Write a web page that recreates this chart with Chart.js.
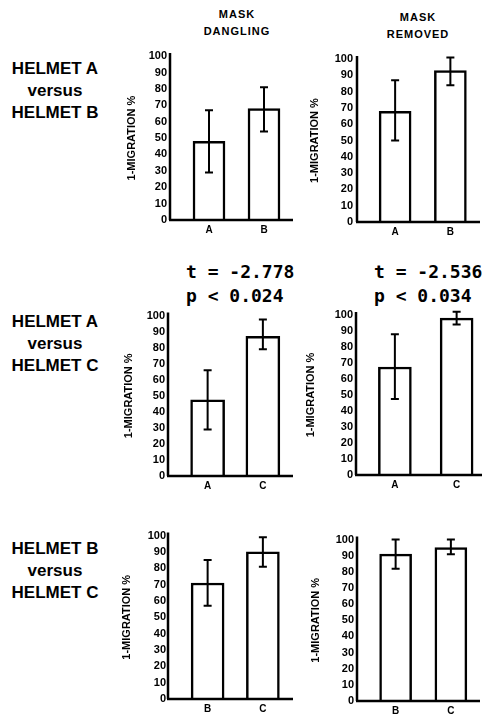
<!DOCTYPE html>
<html>
<head>
<meta charset="utf-8">
<script src="https://cdn.jsdelivr.net/npm/chart.js@4.4.0/dist/chart.umd.min.js"></script>
<style>
  body { margin:0; width:488px; height:718px; overflow:hidden; background:#fff; position:relative;
         font-family:"Liberation Sans", Arial, sans-serif; color:#000; }
  .lbl  { position:absolute; font-weight:bold; text-align:center; }
  .row  { left:0; width:110px; font-size:17px; line-height:22px; }
  .hdr  { width:120px; font-size:11px; line-height:17px; letter-spacing:1px; }
  .stat { position:absolute; font-family:"DejaVu Sans Mono", monospace; font-size:18px; line-height:24px;
          font-weight:bold; white-space:pre; }
  canvas { position:absolute; }
</style>
</head>
<body>
<div class="lbl hdr" style="left:177px;top:6px;">MASK<br>DANGLING</div>
<div class="lbl hdr" style="left:358px;top:9px;">MASK<br>REMOVED</div>

<div class="lbl row" style="top:58px;">HELMET A<br>versus<br>HELMET B</div>
<div class="lbl row" style="top:311px;">HELMET A<br>versus<br>HELMET C</div>
<div class="lbl row" style="top:538px;">HELMET B<br>versus<br>HELMET C</div>

<div class="stat" style="left:186px;top:260px;">t = -2.778<br>p &lt; 0.024</div>
<div class="stat" style="left:374px;top:260px;">t = -2.536<br>p &lt; 0.034</div>

<canvas id="c1"></canvas>
<canvas id="c2"></canvas>
<canvas id="c3"></canvas>
<canvas id="c4"></canvas>
<canvas id="c5"></canvas>
<canvas id="c6"></canvas>

<script>
// ── Data (1-migration %, bar = mean, lo/hi = error bar ends) ─────────
const yTicks = [0, 10, 20, 30, 40, 50, 60, 70, 80, 90, 100];
const catsAB = ['A', 'B'];
const catsAC = ['A', 'C'];
const catsBC = ['B', 'C'];

const abDangling   = [48, 68],   abDanglingLo = [29, 54],   abDanglingHi = [67, 81];
const abRemoved    = [68, 93],   abRemovedLo  = [50, 84],   abRemovedHi  = [87, 101];
const acDangling   = [47.5, 87], acDanglingLo = [29, 79],   acDanglingHi = [66, 97.5];
const acRemoved    = [67.5, 98], acRemovedLo  = [47.5, 94], acRemovedHi  = [88, 102];
const bcDangling   = [71, 90],   bcDanglingLo = [57, 81],   bcDanglingHi = [85, 99];
const bcRemoved    = [91, 95],   bcRemovedLo  = [82, 91],   bcRemovedHi  = [100, 100];

// ── Panel geometry (page px) ─────────────────────────────────────────
const panels = [
  { id:'c1', axisX:170, L:181.5, R:291.5, T:53,  B:220, titleX:132, tickRight:167, barW:32, axisEnd:293 },
  { id:'c2', axisX:357, L:367.5, R:478,   T:56,  B:222, titleX:315, tickRight:353, barW:32, axisEnd:480 },
  { id:'c3', axisX:168, L:180,   R:290.5, T:312, B:476, titleX:129, tickRight:165, barW:34, axisEnd:293 },
  { id:'c4', axisX:356, L:364,   R:487.5, T:315, B:475, titleX:311, tickRight:353, barW:33, axisEnd:482 },
  { id:'c5', axisX:168, L:180,   R:290.5, T:533, B:699, titleX:127, tickRight:166, barW:33, axisEnd:293 },
  { id:'c6', axisX:357, L:368,   R:478.5, T:537, B:701, titleX:316, tickRight:354, barW:32, axisEnd:480 },
];

// axis lines + error bars
function axesAndErrors(p, left, lo, hi) {
  return {
    id: 'axesErr',
    afterDatasetsDraw(chart) {
      const { ctx, chartArea: a, scales: { y } } = chart;
      const ax = p.axisX - left;
      ctx.save();
      ctx.strokeStyle = '#000';
      ctx.lineWidth = 2.5;
      ctx.beginPath();
      ctx.moveTo(ax, y.getPixelForValue(100) - 3);
      ctx.lineTo(ax, a.bottom);
      ctx.moveTo(ax - 1, a.bottom);
      ctx.lineTo(p.axisEnd - left, a.bottom);
      ctx.stroke();

      ctx.lineWidth = 2;
      chart.getDatasetMeta(0).data.forEach((bar, i) => {
        const yl = y.getPixelForValue(lo[i]);
        const yh = y.getPixelForValue(hi[i]);
        ctx.beginPath();
        ctx.moveTo(bar.x, yh); ctx.lineTo(bar.x, yl);
        ctx.moveTo(bar.x - 4, yh); ctx.lineTo(bar.x + 4, yh);
        ctx.moveTo(bar.x - 4, yl); ctx.lineTo(bar.x + 4, yl);
        ctx.stroke();
      });
      ctx.restore();
    }
  };
}

function makeChart(p, cats, vals, lo, hi) {
  const canvas = document.getElementById(p.id);
  const left = Math.round(p.titleX - 7);
  const top  = p.T - 18;
  const w = Math.min(488, Math.ceil(p.R + 6)) - left;
  const h = p.B + 24 - top;
  canvas.style.left = left + 'px';
  canvas.style.top  = top + 'px';
  canvas.width  = w;
  canvas.height = h;

  new Chart(canvas, {
    type: 'bar',
    data: {
      labels: cats,
      datasets: [{
        data: vals,
        backgroundColor: '#fff',
        borderColor: '#000',
        borderWidth: 2.5,
        barThickness: p.barW,
      }]
    },
    options: {
      responsive: false,
      animation: false,
      events: [],
      layout: { autoPadding: false, padding: { top: 18, right: w - (p.R - left), left: 0, bottom: 0 } },
      plugins: { legend: { display: false }, tooltip: { enabled: false } },
      scales: {
        x: {
          grid: { display: false, drawTicks: false },
          border: { display: false },
          ticks: { color: '#000', font: { family: 'Liberation Sans', size: 10, weight: 'bold' }, padding: 4 },
          afterFit: s => { s.height = 24; }
        },
        y: {
          min: 0, max: 100,
          grid: { display: false, drawTicks: false },
          border: { display: false },
          afterBuildTicks: s => { s.ticks = yTicks.map(v => ({ value: v })); },
          ticks: { color: '#000', autoSkip: false, font: { family: 'Liberation Sans', size: 11, weight: 'bold' }, padding: p.L - p.tickRight },
          title: { display: true, text: '1-MIGRATION %', color: '#000', padding: 0,
                   font: { family: 'Liberation Sans', size: 11, weight: 'bold' } },
          afterFit: s => { s.width = p.L - left; }
        }
      }
    },
    plugins: [axesAndErrors(p, left, lo, hi)]
  });
}

makeChart(panels[0], catsAB, abDangling, abDanglingLo, abDanglingHi);
makeChart(panels[1], catsAB, abRemoved,  abRemovedLo,  abRemovedHi);
makeChart(panels[2], catsAC, acDangling, acDanglingLo, acDanglingHi);
makeChart(panels[3], catsAC, acRemoved,  acRemovedLo,  acRemovedHi);
makeChart(panels[4], catsBC, bcDangling, bcDanglingLo, bcDanglingHi);
makeChart(panels[5], catsBC, bcRemoved,  bcRemovedLo,  bcRemovedHi);
</script>
</body>
</html>
